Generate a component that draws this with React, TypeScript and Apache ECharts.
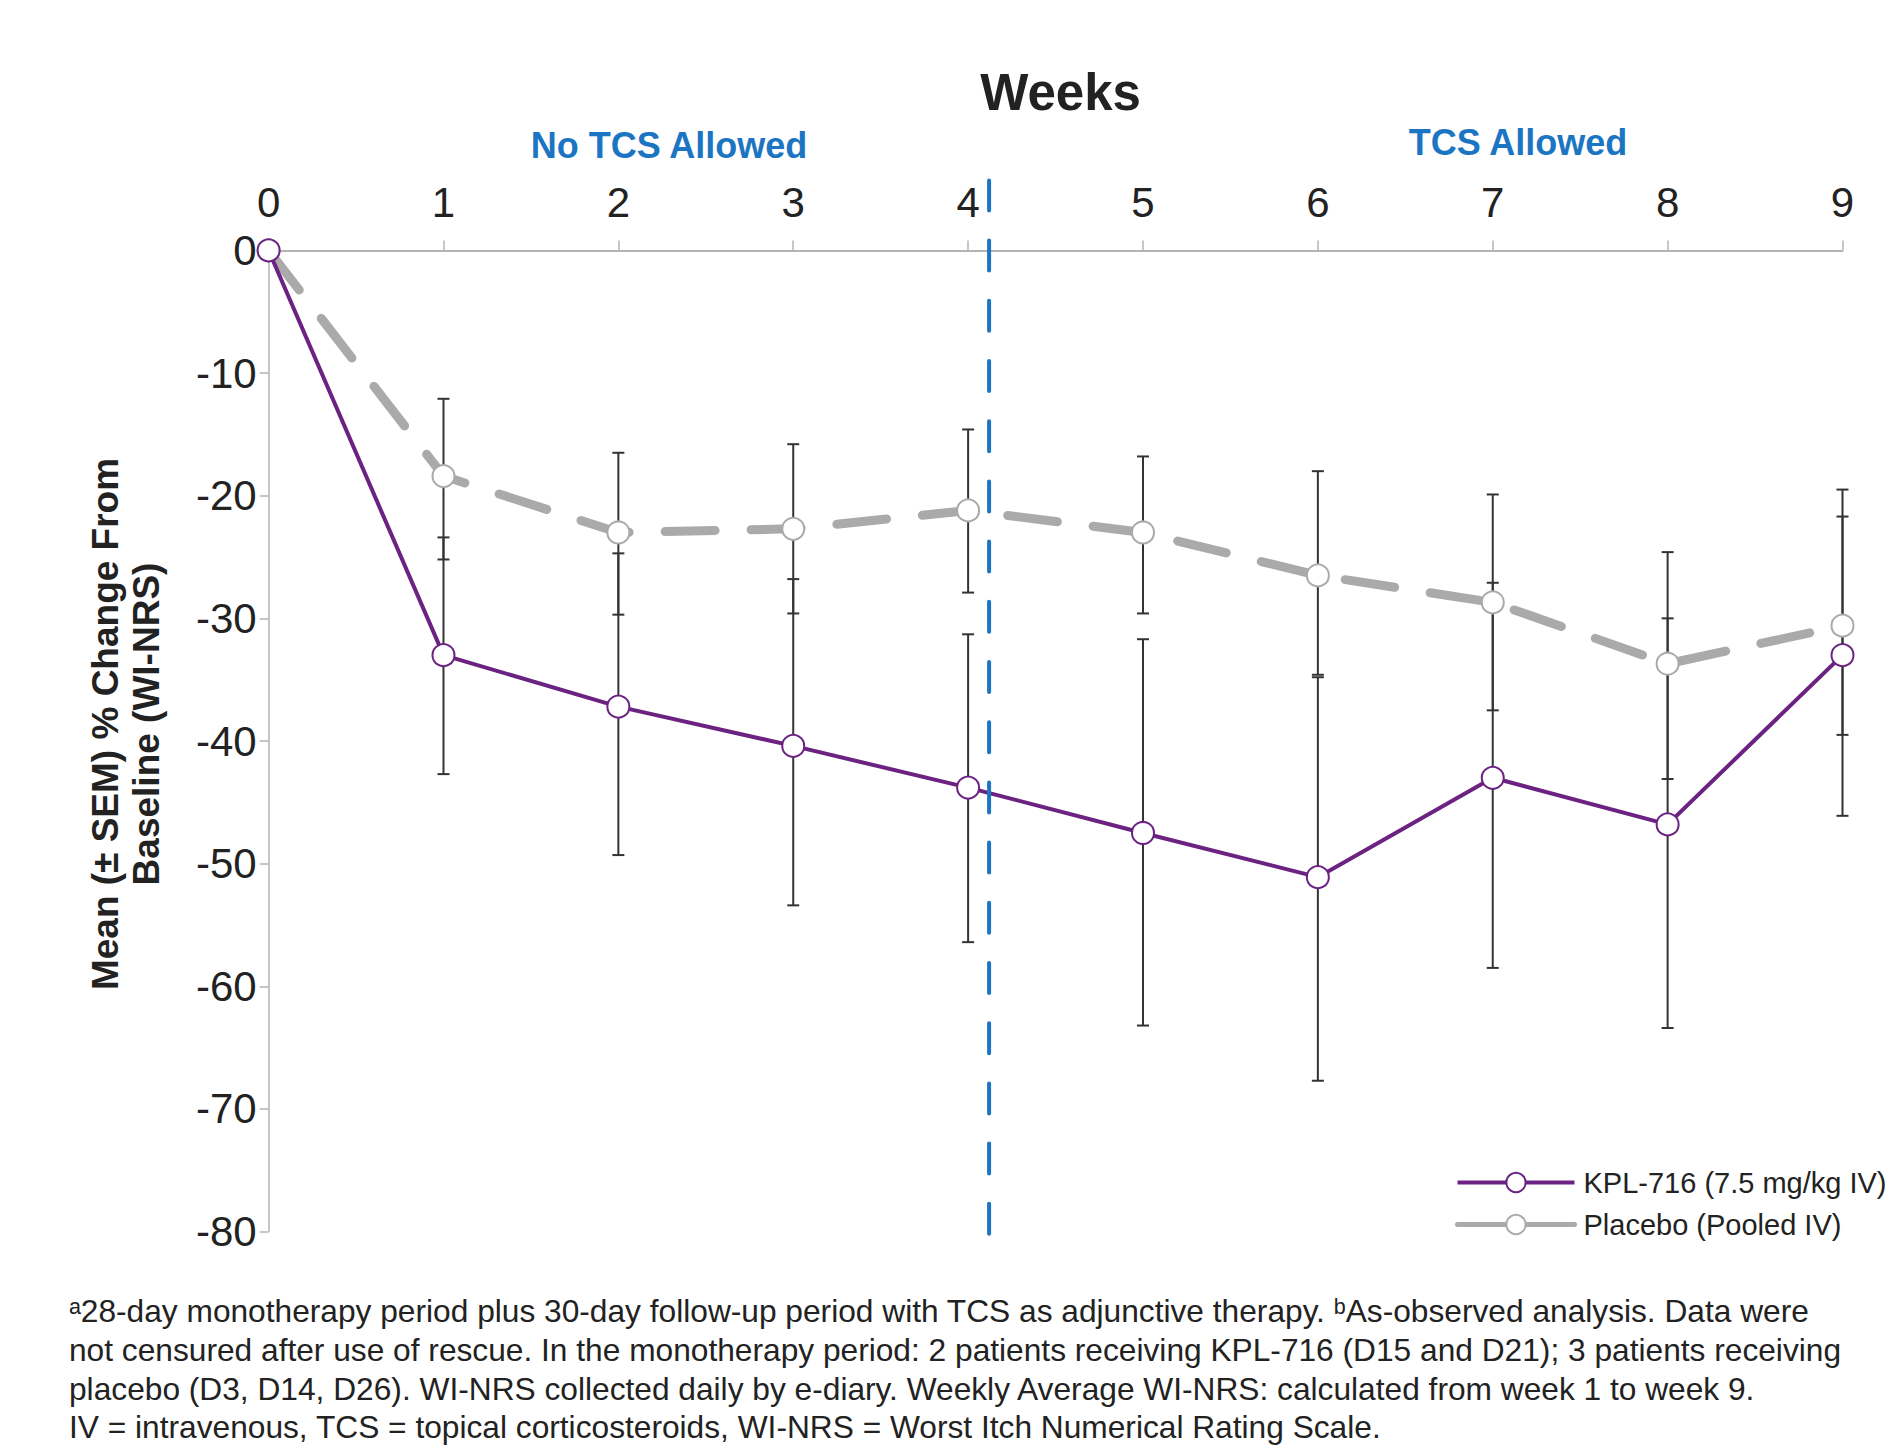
import React, { useEffect, useRef } from "react";
import * as echarts from "echarts";

// ---------- data ----------
const weeks = [0, 1, 2, 3, 4, 5, 6, 7, 8, 9];
const seriesNames = ["KPL-716 (7.5 mg/kg IV)", "Placebo (Pooled IV)"];

const kplMean = [0, -33.0, -37.2, -40.4, -43.8, -47.5, -51.1, -43.0, -46.8, -33.0];
const kplLow = [null, -42.7, -49.3, -53.4, -56.4, -63.2, -67.7, -58.5, -63.4, -46.1];
const kplHigh = [null, -23.4, -24.7, -26.8, -31.3, -31.7, -34.8, -27.1, -30.0, -19.5];

const placeboMean = [0, -18.4, -23.0, -22.7, -21.2, -23.0, -26.5, -28.7, -33.7, -30.6];
const placeboLow = [null, -25.2, -29.7, -29.6, -27.9, -29.6, -34.6, -37.5, -43.1, -39.5];
const placeboHigh = [null, -12.1, -16.5, -15.8, -14.6, -16.8, -18.0, -19.9, -24.6, -21.7];

const yMin = -80;
const yMax = 0;
const yInterval = 10;
const xMin = 0;
const xMax = 9;
const xInterval = 1;

const DIVIDER_WEEK = 4.12;

const xAxisTitle = "Weeks";
const periodLabels = ["No TCS Allowed", "TCS Allowed"];
const yAxisTitle = ["Mean (± SEM) % Change From", "Baseline (WI-NRS)"];
const footnoteLines = [
  "ᵃ28-day monotherapy period plus 30-day follow-up period with TCS as adjunctive therapy. ᵇAs-observed analysis. Data were",
  "not censured after use of rescue. In the monotherapy period: 2 patients receiving KPL-716 (D15 and D21); 3 patients receiving",
  "placebo (D3, D14, D26). WI-NRS collected daily by e-diary. Weekly Average WI-NRS: calculated from week 1 to week 9.",
  "IV = intravenous, TCS = topical corticosteroids, WI-NRS = Worst Itch Numerical Rating Scale.",
];

// ---------- styles ----------
const FONT = "'Liberation Sans', Arial, Helvetica, sans-serif";
const PURPLE = "#6b2281";
const GRAY = "#aaaaaa";
const BLUE = "#1b75c2";
const TEXT = "#222222";

function errorData(lo: (number | null)[], hi: (number | null)[]) {
  const out: number[][] = [];
  weeks.forEach((w, i) => {
    if (lo[i] !== null && hi[i] !== null) out.push([w, lo[i] as number, hi[i] as number]);
  });
  return out;
}

function renderErrorBar(params: any, api: any) {
  const x = api.value(0);
  const lo = api.coord([x, api.value(1)]);
  const hi = api.coord([x, api.value(2)]);
  const hw = 6;
  const style = { stroke: "#333333", lineWidth: 2 };
  return {
    type: "group",
    children: [
      { type: "line", shape: { x1: lo[0], y1: lo[1], x2: hi[0], y2: hi[1] }, style },
      { type: "line", shape: { x1: lo[0] - hw, y1: lo[1], x2: lo[0] + hw, y2: lo[1] }, style },
      { type: "line", shape: { x1: hi[0] - hw, y1: hi[1], x2: hi[0] + hw, y2: hi[1] }, style },
    ],
  };
}

export default function App() {
  const ref = useRef<HTMLDivElement>(null);

  useEffect(() => {
    if (!ref.current) return;
    const chart = echarts.init(ref.current, null, { renderer: "svg" });

    chart.setOption({
      animation: false,
      backgroundColor: "#ffffff",
      grid: { left: 268.6, right: 54.5, top: 250.4, bottom: 216.4, containLabel: false },
      xAxis: {
        type: "value",
        position: "top",
        min: xMin,
        max: xMax,
        interval: xInterval,
        axisLine: { show: true, onZero: false, lineStyle: { color: "#b3b3b3", width: 2 } },
        axisTick: { show: true, length: 10, lineStyle: { color: "#b3b3b3", width: 1.5 } },
        splitLine: { show: false },
        axisLabel: { fontFamily: FONT, fontSize: 42, color: TEXT, margin: 27 },
      },
      yAxis: {
        type: "value",
        min: yMin,
        max: yMax,
        interval: yInterval,
        axisLine: { show: true, lineStyle: { color: "#b3b3b3", width: 1.5 } },
        axisTick: { show: true, length: 9, lineStyle: { color: "#b3b3b3", width: 1.5 } },
        splitLine: { show: false },
        axisLabel: { fontFamily: FONT, fontSize: 42, color: TEXT, margin: 12 },
      },
      legend: {
        orient: "vertical",
        left: 1450,
        top: 1163,
        itemWidth: 117,
        itemHeight: 24,
        itemGap: 13,
        selectedMode: false,
        textStyle: { fontFamily: FONT, fontSize: 29, color: TEXT, padding: [0, 0, 0, 4] },
        data: [
          { name: seriesNames[0], lineStyle: { color: PURPLE, width: 4, type: "solid" } },
          { name: seriesNames[1], lineStyle: { color: GRAY, width: 5, type: "solid" } },
        ],
      },
      series: [
        {
          name: "Placebo SEM",
          type: "custom",
          z: 1,
          renderItem: renderErrorBar,
          encode: { x: 0, y: [1, 2] },
          data: errorData(placeboLow, placeboHigh),
        },
        {
          name: "KPL SEM",
          type: "custom",
          z: 1,
          renderItem: renderErrorBar,
          encode: { x: 0, y: [1, 2] },
          data: errorData(kplLow, kplHigh),
        },
        {
          name: seriesNames[1],
          type: "line",
          z: 3,
          color: GRAY,
          symbol: "emptyCircle",
          symbolSize: 22,
          itemStyle: { color: GRAY, borderColor: GRAY, borderWidth: 2.5 },
          lineStyle: { color: GRAY, width: 9, type: [50, 36], cap: "round" },
          data: weeks.map((w, i) => [w, placeboMean[i]]),
        },
        {
          name: seriesNames[0],
          type: "line",
          z: 4,
          color: PURPLE,
          symbol: "emptyCircle",
          symbolSize: 22,
          itemStyle: { color: PURPLE, borderColor: PURPLE, borderWidth: 2.5 },
          lineStyle: { color: PURPLE, width: 4 },
          data: weeks.map((w, i) => [w, kplMean[i]]),
        },
      ],
    });

    const divTop = chart.convertToPixel({ xAxisIndex: 0, yAxisIndex: 0 }, [DIVIDER_WEEK, yMax]) as number[];
    const divBot = chart.convertToPixel({ xAxisIndex: 0, yAxisIndex: 0 }, [DIVIDER_WEEK, yMin]) as number[];
    const p0 = chart.convertToPixel({ xAxisIndex: 0, yAxisIndex: 0 }, [xMin, yMax]) as number[];
    const p9 = chart.convertToPixel({ xAxisIndex: 0, yAxisIndex: 0 }, [xMax, yMin]) as number[];
    const midX = (p0[0] + p9[0]) / 2;
    const midY = (p0[1] + p9[1]) / 2;

    chart.setOption({
      graphic: [
        {
          type: "line",
          z: 5,
          shape: { x1: divTop[0], y1: divTop[1] - 70, x2: divBot[0], y2: divBot[1] + 3 },
          style: { stroke: BLUE, lineWidth: 4, lineDash: [30, 30.2], lineCap: "round" },
        },
        {
          type: "text",
          x: midX + 5,
          y: 92,
          style: {
            text: xAxisTitle,
            fontFamily: FONT,
            fontSize: 51,
            fontWeight: "bold",
            fill: TEXT,
            align: "center",
            verticalAlign: "middle",
          },
        },
        {
          type: "text",
          x: 669,
          y: 145,
          style: {
            text: periodLabels[0],
            fontFamily: FONT,
            fontSize: 36,
            fontWeight: "bold",
            fill: BLUE,
            align: "center",
            verticalAlign: "middle",
          },
        },
        {
          type: "text",
          x: 1518,
          y: 142,
          style: {
            text: periodLabels[1],
            fontFamily: FONT,
            fontSize: 36,
            fontWeight: "bold",
            fill: BLUE,
            align: "center",
            verticalAlign: "middle",
          },
        },
        {
          type: "text",
          x: 126,
          y: midY - 17,
          rotation: Math.PI / 2,
          style: {
            text: yAxisTitle.join("\n"),
            fontFamily: FONT,
            fontSize: 37,
            fontWeight: "bold",
            lineHeight: 41,
            fill: TEXT,
            align: "center",
            verticalAlign: "middle",
          },
        },
        {
          type: "text",
          x: 69,
          y: 1292,
          style: {
            text: footnoteLines.join("\n"),
            fontFamily: FONT,
            fontSize: 31.7,
            lineHeight: 38.6,
            fill: TEXT,
            align: "left",
            verticalAlign: "top",
          },
        },
      ],
    });

    return () => chart.dispose();
  }, []);

  return (
    <div
      ref={ref}
      style={{ position: "absolute", left: 0, top: 0, width: 1897, height: 1448, background: "#fff" }}
    />
  );
}
